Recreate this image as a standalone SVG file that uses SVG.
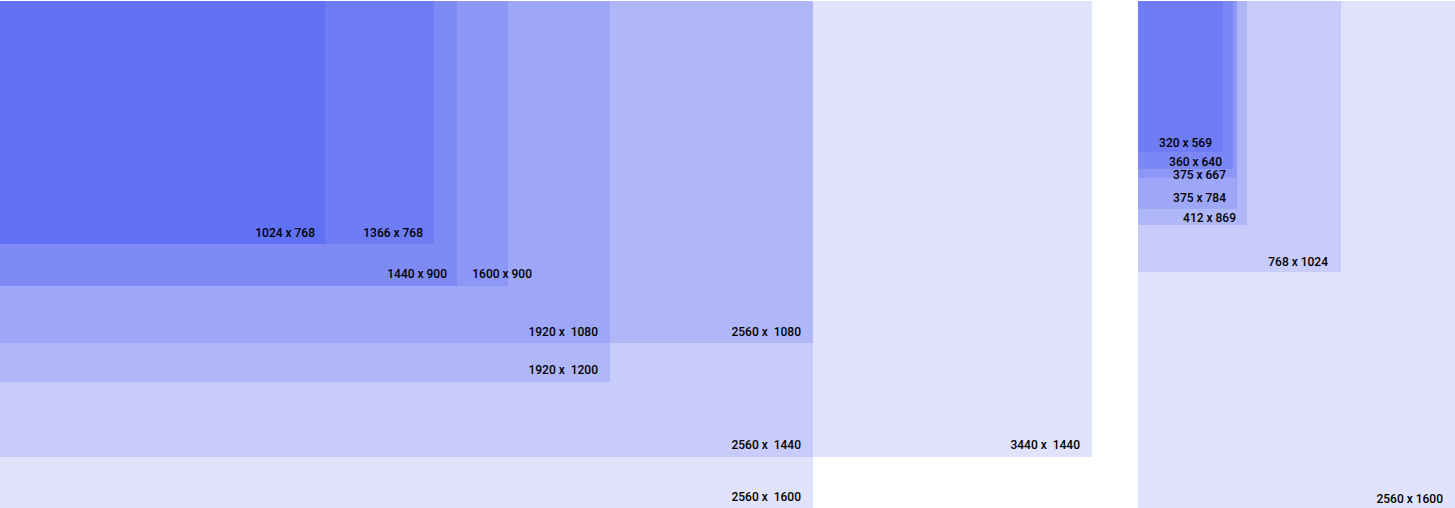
<svg xmlns="http://www.w3.org/2000/svg" width="1455" height="508" viewBox="0 0 1455 508">
<style>
text{font-family:Roboto,"Noto Sans",sans-serif;font-size:12px;font-weight:500;fill:#000;text-anchor:end;white-space:pre}
.c1{fill:#e1e3fd}.c2{fill:#c8ccfa}.c3{fill:#b0b7f8}.c4{fill:#9ea7f7}.c5{fill:#8c97f6}.c6{fill:#7e8af4}.c7{fill:#6e7cf5}.c8{fill:#6171f5}
.r5{fill:#8d97f6}.r6{fill:#7b87f5}.r7{fill:#6f7cf5}
</style>
<rect width="1455" height="508" fill="#fff"/>
<g id="desktop">
<g id="r3440x1440"><rect class="c1" x="0" y="1" width="1092" height="456"/><text x="1080" y="449" xml:space="preserve">3440 x  1440</text></g>
<g id="r2560x1600"><rect class="c1" x="0" y="1" width="813" height="507"/><text x="801" y="501" xml:space="preserve">2560 x  1600</text></g>
<g id="r2560x1440"><rect class="c2" x="0" y="1" width="813" height="456"/><text x="801" y="449" xml:space="preserve">2560 x  1440</text></g>
<g id="r2560x1080"><rect class="c3" x="0" y="1" width="813" height="342"/><text x="801" y="336" xml:space="preserve">2560 x  1080</text></g>
<g id="r1920x1200"><rect class="c3" x="0" y="1" width="610" height="381"/><text x="598" y="374" xml:space="preserve">1920 x  1200</text></g>
<g id="r1920x1080"><rect class="c4" x="0" y="1" width="610" height="342"/><text x="598" y="336" xml:space="preserve">1920 x  1080</text></g>
<g id="r1600x900"><rect class="c5" x="0" y="1" width="508" height="285"/></g>
<g id="r1440x900"><rect class="c6" x="0" y="1" width="457" height="285"/><text x="447" y="278">1440 x 900</text></g>
<g id="r1366x768"><rect class="c7" x="0" y="1" width="434" height="243"/><text x="423" y="237">1366 x 768</text></g>
<g id="r1024x768"><rect class="c8" x="0" y="1" width="325" height="243"/><text x="315" y="237">1024 x 768</text></g>
<g id="r1600x900-label"><text x="532" y="278">1600 x 900</text></g>
</g>
<g id="mobile">
<g id="m2560x1600"><rect class="c1" x="1138" y="1" width="317" height="507"/><text x="1443" y="503">2560 x 1600</text></g>
<g id="m768x1024"><rect class="c2" x="1138" y="1" width="203" height="271"/><text x="1328" y="266">768 x 1024</text></g>
<g id="m412x869"><rect class="c3" x="1138" y="1" width="109" height="224"/><text x="1236" y="222">412 x 869</text></g>
<g id="m375x784"><rect class="c4" x="1138" y="1" width="99" height="208"/><text x="1226" y="202">375 x 784</text></g>
<g id="m375x667"><rect class="r5" x="1138" y="1" width="99" height="177"/><text x="1226" y="179">375 x 667</text></g>
<g id="m360x640"><rect class="r6" x="1138" y="1" width="95" height="168"/><text x="1222" y="166">360 x 640</text></g>
<g id="m320x569"><rect class="r7" x="1138" y="1" width="85" height="151"/><text x="1212" y="147">320 x 569</text></g>
</g>
<g id="connectors"/>
</svg>
